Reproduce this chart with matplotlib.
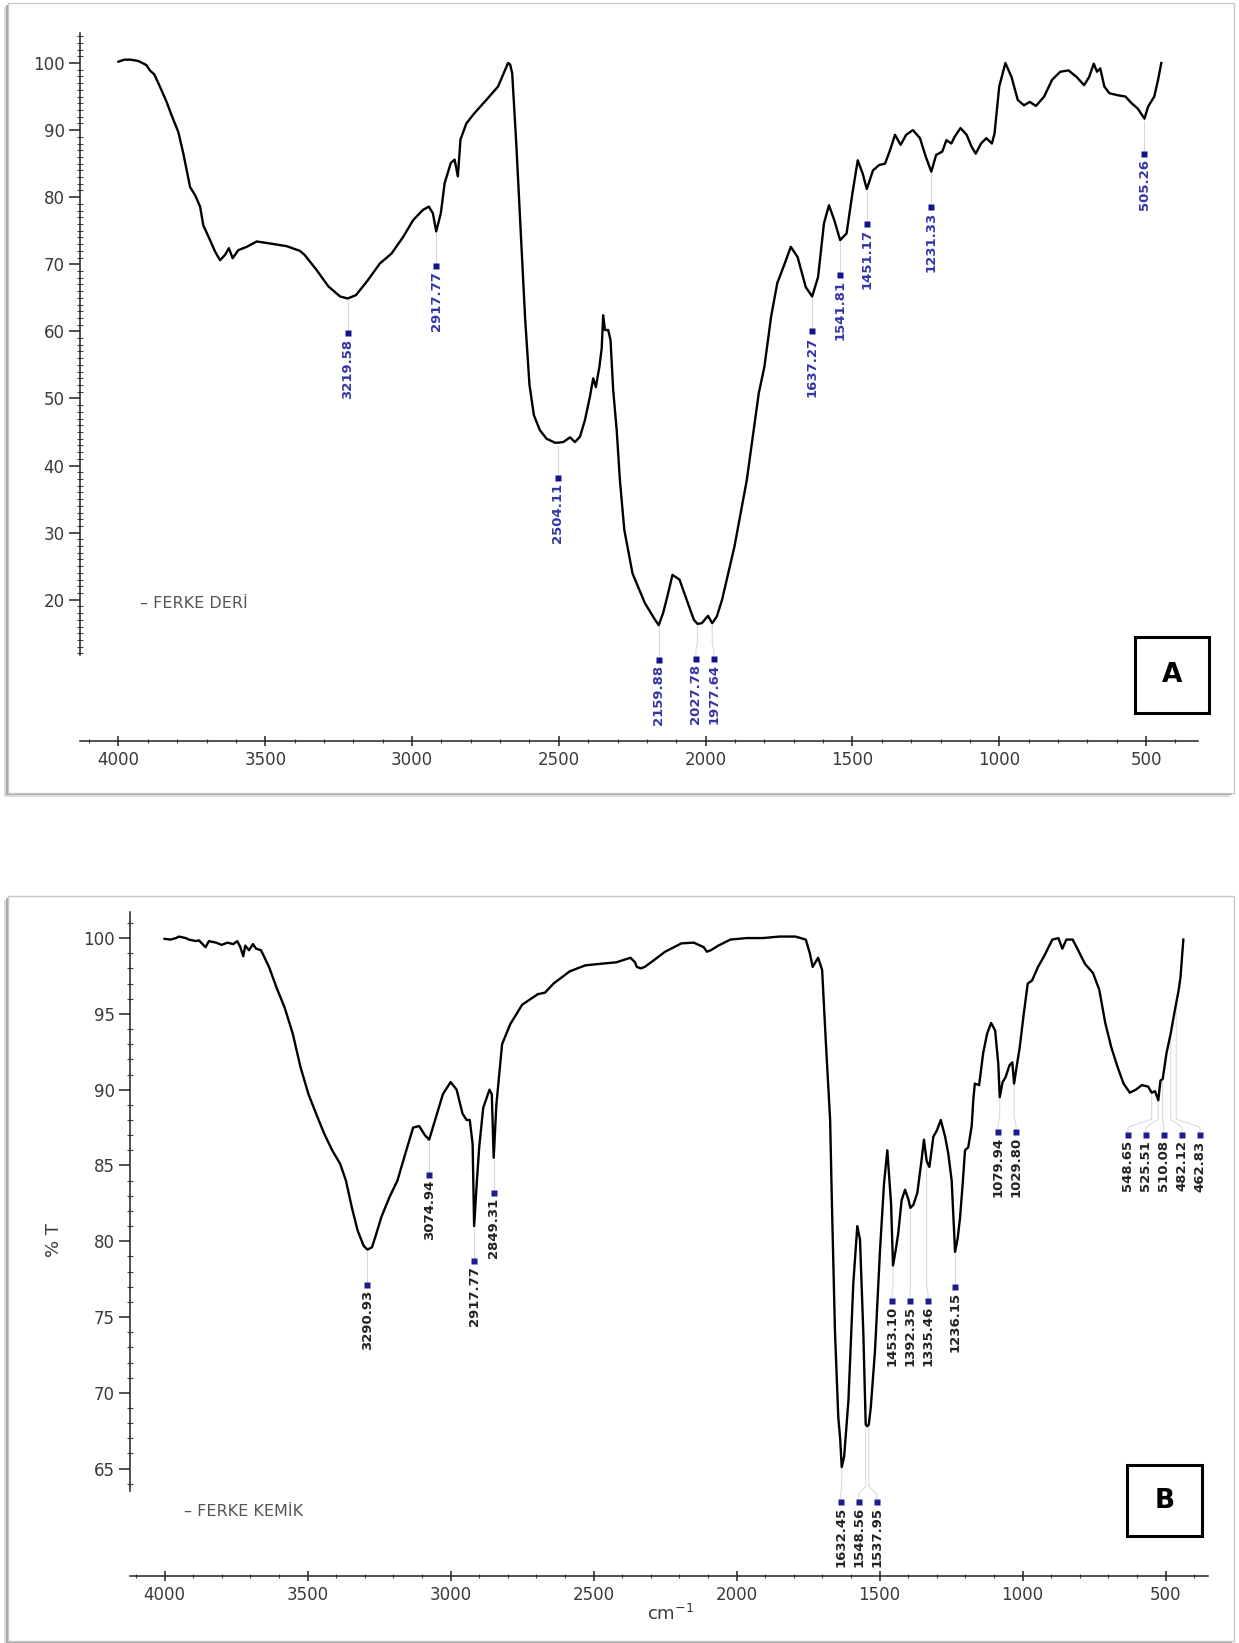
import matplotlib.pyplot as plt
import numpy as np
from matplotlib.patches import Rectangle
from matplotlib.ticker import FixedLocator

W, H = 1239, 1643

# FERKE DERİ spectrum: wavenumber (cm-1) and %T
wn_deri = [4000, 3980, 3959, 3932, 3905, 3893, 3878, 3859, 3836, 3819, 3796, 3779, 3756, 3739,
           3722, 3711, 3688, 3671, 3654, 3637, 3624, 3611, 3592, 3563, 3529, 3484, 3427, 3382,
           3366, 3326, 3285, 3245, 3219.58, 3191, 3151, 3110, 3070, 3030, 2996, 2963, 2943, 2929,
           2917.77, 2902, 2889, 2868, 2855, 2844, 2835, 2815, 2788, 2747, 2707, 2673, 2666, 2659,
           2645, 2630, 2615, 2600, 2585, 2565, 2542, 2513, 2504.11, 2485, 2462, 2445, 2428, 2411,
           2394, 2383, 2374, 2362, 2354, 2349, 2343, 2332, 2324, 2315, 2303, 2292, 2277, 2249,
           2207, 2175, 2159.88, 2145, 2131, 2113, 2089, 2068, 2040, 2027.78, 2013, 1992, 1977.64,
           1962, 1944, 1902, 1860, 1819, 1800, 1777, 1756, 1735, 1710, 1687, 1659, 1637.27, 1617,
           1597, 1580, 1562, 1541.81, 1520, 1500, 1482, 1465, 1451.17, 1430, 1409, 1389, 1372,
           1355, 1336, 1317, 1294, 1270, 1250, 1231.33, 1215, 1194, 1180, 1163, 1152, 1132, 1111,
           1094, 1080, 1062, 1044, 1025, 1016, 1000, 979, 958, 937, 916, 896, 875, 847, 820, 792,
           764, 736, 711, 694, 678, 667, 656, 642, 625, 597, 570, 549, 528, 505.26, 493, 472, 459,
           448]
t_deri = [100.2, 100.5, 100.5, 100.3, 99.7, 98.9, 98.3, 96.5, 94.2, 92.2, 89.7, 86.5, 81.5, 80.3,
          78.6, 75.8, 73.6, 71.9, 70.6, 71.4, 72.4, 70.9, 72.1, 72.6, 73.4, 73.1, 72.7, 72.0,
          71.4, 69.2, 66.7, 65.2, 64.9, 65.4, 67.6, 70.1, 71.6, 74.1, 76.6, 78.1, 78.6, 77.6,
          74.9, 77.6, 82.1, 85.1, 85.6, 83.1, 88.6, 91.0, 92.5, 94.5, 96.5, 100.0, 99.8, 98.5,
          88.0, 75.0, 62.0, 52.0, 47.5, 45.3, 44.0, 43.4, 43.4, 43.5, 44.2, 43.5, 44.3, 46.8,
          50.3, 53.0, 51.7, 54.7, 57.5, 62.4, 60.2, 60.2, 58.7, 51.3, 45.3, 37.8, 30.4, 23.9,
          19.5, 17.2, 16.2, 18.0, 20.4, 23.7, 23.0, 20.4, 17.0, 16.4, 16.5, 17.6, 16.5,
          17.5, 20.0, 27.9, 37.8, 50.8, 54.7, 62.2, 67.2, 69.6, 72.6, 71.1, 66.6, 65.2, 68.1,
          76.1, 78.8, 76.6, 73.6, 74.6, 80.6, 85.5, 83.5, 81.2, 84.0, 84.8, 85.0, 87.0,
          89.3, 87.8, 89.3, 90.0, 88.8, 86.0, 83.8, 86.3, 86.8, 88.5, 88.0, 89.0, 90.3, 89.3,
          87.5, 86.5, 88.0, 88.8, 88.0, 89.5, 96.5, 100.0, 97.9, 94.5, 93.7, 94.2, 93.6, 95.0, 97.5, 98.7,
          98.9, 97.9, 96.7, 97.9, 99.9, 98.7, 99.2, 96.5, 95.5, 95.2, 95.0, 94.0, 93.2, 91.7, 93.5, 95.0, 97.5,
          100.0]
peaks_deri = [[3219.58], [2917.77], [2504.11], [2159.88], [2027.78, 1977.64], [1637.27],
              [1541.81], [1451.17], [1231.33], [505.26]]

# FERKE KEMİK spectrum
wn_kemik = [4000, 3980, 3960, 3950, 3926, 3915, 3890, 3880, 3857, 3845, 3820, 3801, 3780, 3760,
            3746, 3735, 3725, 3718, 3705, 3691, 3680, 3663, 3635, 3608, 3580, 3552, 3525, 3497,
            3470, 3442, 3414, 3386, 3366, 3345, 3325, 3304, 3290.93, 3275, 3263, 3242, 3214, 3186,
            3158, 3131, 3110, 3090, 3074.94, 3048, 3027, 3000, 2979, 2958, 2944, 2933, 2923,
            2917.77, 2908, 2900, 2886, 2864, 2856, 2849.31, 2840, 2834, 2820, 2792, 2750, 2695,
            2670, 2640, 2584, 2529, 2478, 2421, 2371, 2355, 2349, 2335, 2321, 2292, 2250, 2193,
            2150, 2115, 2104, 2090, 2064, 2022, 1965, 1908, 1851, 1794, 1758, 1744, 1734, 1715,
            1701, 1687, 1673, 1667, 1656, 1644.5, 1638, 1632.45, 1624, 1609, 1592, 1578, 1568.5,
            1557, 1548.56, 1543, 1537.95, 1531, 1516, 1498.6, 1484.6, 1473, 1460, 1453.10, 1443,
            1435, 1423, 1411, 1400, 1392.35, 1382, 1368, 1353, 1345, 1335.46, 1326, 1312, 1300,
            1286, 1271, 1260, 1248, 1236.15, 1227, 1219, 1209.5, 1201.4, 1190, 1178, 1172.5, 1167,
            1152, 1138, 1124, 1110, 1096, 1085, 1079.94, 1070, 1060, 1046, 1036, 1029.80, 1021,
            1010, 996, 982, 967, 946, 925, 896, 875, 861, 847, 825, 811, 782, 754, 732, 711, 690,
            668, 647, 625, 604, 583, 561, 548.65, 537, 525.51, 518, 510.08, 497, 482.12, 470,
            462.83, 455, 448, 438]
t_kemik = [99.95, 99.9, 100.0, 100.1, 100.0, 99.9, 99.8, 99.85, 99.4, 99.8, 99.7, 99.55, 99.7, 99.6,
           99.8, 99.4, 98.8, 99.5, 99.2, 99.6, 99.3, 99.2, 98.1, 96.7, 95.4, 93.7, 91.5, 89.7,
           88.4, 87.1, 86.0, 85.1, 84.0, 82.2, 80.7, 79.7, 79.45, 79.6, 80.3, 81.6, 82.9, 84.0,
           85.8, 87.5, 87.6, 87.0, 86.7, 88.4, 89.7, 90.5, 90.0, 88.4, 88.0, 88.0, 86.4,
           81.0, 84.0, 86.2, 88.8, 90.0, 89.7, 85.5, 89.0, 90.2, 93.0, 94.3, 95.6, 96.3,
           96.4, 97.0, 97.8, 98.2, 98.3, 98.4, 98.7, 98.4, 98.1, 98.0, 98.1, 98.5, 99.1, 99.65,
           99.7, 99.4, 99.1, 99.2, 99.5, 99.9, 100.0, 100.0, 100.1, 100.1, 99.9, 99.0, 98.1, 98.7,
           97.9, 92.8, 88.0, 82.7, 74.0, 68.4, 67.0, 65.1, 65.8, 69.5, 77.2, 81.0, 80.1,
           74.0, 67.9, 67.8, 67.9, 69.0, 72.8, 79.4, 83.8, 86.0, 82.5, 78.4, 79.5,
           80.5, 82.7, 83.4, 82.8, 82.2, 82.4, 83.2, 85.4, 86.7, 85.3, 84.9, 86.9, 87.3,
           88.0, 86.9, 85.8, 84.0, 79.3, 80.2, 81.5, 83.8, 86.0, 86.2, 87.6, 89.3, 90.4,
           90.3, 92.4, 93.7, 94.4, 93.9, 91.7, 89.5, 90.5, 90.8, 91.6, 91.8, 90.4, 91.5,
           92.8, 95.0, 97.0, 97.2, 98.1, 98.8, 99.9, 100.0, 99.3, 99.9, 99.9, 99.4, 98.3, 97.7, 96.6, 94.4, 92.8,
           91.5, 90.4, 89.8, 90.0, 90.3, 90.2, 89.8, 89.9, 89.3, 90.6, 90.7, 92.4, 93.7, 95.0,
           95.7, 96.5, 97.4, 99.9]
peaks_kemik = [[3290.93], [3074.94], [2917.77], [2849.31], [1632.45, 1548.56, 1537.95],
               [1453.10, 1392.35, 1335.46], [1236.15], [1079.94, 1029.80],
               [548.65, 525.51, 510.08, 482.12, 462.83]]

x_major = [4000, 3500, 3000, 2500, 2000, 1500, 1000, 500]
x_minor = [v for v in range(400, 4101, 100) if v % 500]


def fx(x):
    return x / W


def fy(y):
    return 1 - y / H


fig = plt.figure(figsize=(W / 100, H / 100), dpi=100)


def card(x0, y0, x1, y1):
    # white card with a soft grey shadow on the left and bottom edges
    for off, col in [(4, '#dcdcdc'), (2, '#a6a6a6')]:
        fig.patches.append(Rectangle((fx(x0 - off), fy(y1 + off)), (x1 - x0) / W, (y1 - y0) / H,
                                     transform=fig.transFigure, facecolor=col, edgecolor='none',
                                     zorder=-3))
    fig.patches.append(Rectangle((fx(x0), fy(y1)), (x1 - x0) / W, (y1 - y0) / H,
                                 transform=fig.transFigure, facecolor='white',
                                 edgecolor='#c8c8c8', lw=1, zorder=-2))


def tag(x0, y0, x1, y1, letter):
    fig.patches.append(Rectangle((fx(x0), fy(y1)), (x1 - x0) / W, (y1 - y0) / H,
                                 transform=fig.transFigure, facecolor='white',
                                 edgecolor='black', lw=2.2, zorder=5))
    fig.text(fx((x0 + x1) / 2), fy((y0 + y1) / 2), letter, ha='center', va='center',
             fontsize=19, fontweight='bold', zorder=6)


def spread(xs, gap):
    pos = np.array(xs, dtype=float)
    for _ in range(500):
        moved = False
        for i in range(len(pos) - 1):
            d = pos[i + 1] - pos[i]
            if d < gap - 1e-6:
                s = (gap - d) / 2
                pos[i] -= s
                pos[i + 1] += s
                moved = True
        if not moved:
            break
    return pos


def spectrum(box, xlim, ylim, ybounds, yticks, yminor, wn, t, peaks, tcol, scol):
    x0, y0, x1, y1 = box  # left, top, right, x-axis line (pixels)
    ax = fig.add_axes([fx(x0), fy(y1), (x1 - x0) / W, (y1 - y0) / H])
    ax.set_facecolor('none')
    ax.plot(wn, t, color='black', lw=1.7, zorder=3)
    ax.set_xlim(*xlim)
    ax.set_ylim(*ylim)

    for s in ['top', 'right']:
        ax.spines[s].set_visible(False)
    ax.spines['left'].set_bounds(*ybounds)
    for s in ['left', 'bottom']:
        ax.spines[s].set_linewidth(1.1)
        ax.spines[s].set_color('#222222')

    ax.xaxis.set_major_locator(FixedLocator(x_major))
    ax.xaxis.set_minor_locator(FixedLocator(x_minor))
    ax.yaxis.set_major_locator(FixedLocator(yticks))
    ax.yaxis.set_minor_locator(FixedLocator(yminor))
    ax.tick_params(axis='y', which='major', direction='out', length=8, width=1.1,
                   labelsize=12, pad=3, color='#222222', labelcolor='#3a3a3a')
    ax.tick_params(axis='y', which='minor', direction='inout', length=4, width=0.8,
                   color='#444444')
    ax.tick_params(axis='x', which='major', direction='inout', length=7, width=1.1,
                   labelsize=12, pad=4, color='#222222', labelcolor='#3a3a3a')
    ax.tick_params(axis='x', which='minor', direction='inout', length=3.5, width=0.8,
                   color='#444444')

    # peak picks: leader line from the band down to a rotated label
    wn_inc = np.array(wn)[::-1]
    t_inc = np.array(t)[::-1]
    to_disp = ax.transData.transform
    from_disp = ax.transData.inverted().transform
    for grp in peaks:
        pts = np.array([to_disp((w, np.interp(w, wn_inc, t_inc))) for w in grp])
        top = pts[:, 1].min() - 34
        order = np.argsort(pts[:, 0])
        lx = spread(pts[order, 0], 18)
        for k, i in enumerate(order):
            px, py = pts[i]
            path = from_disp(np.array([(px, py - 2), (px, top + 15), (lx[k], top + 7),
                                       (lx[k], top + 2)]))
            ax.plot(path[:, 0], path[:, 1], color='#d4d4e4', lw=0.7, zorder=2, clip_on=False)
            sq = from_disp((lx[k], top - 1))
            ax.plot(sq[0], sq[1], 's', ms=3.8, color=scol, mec='none', zorder=4, clip_on=False)
            tp = from_disp((lx[k], top - 6))
            ax.text(tp[0], tp[1], f'{grp[i]:.2f}', rotation=90, ha='center', va='top',
                    fontsize=9.5, fontweight='bold', color=tcol, zorder=4)
    return ax


card(8, 3, 1234, 793)
card(8, 896, 1234, 1641)

spectrum((80, 33.5, 1198, 741), (4131, 323), (-1.06, 104.4), (11.8, 104.4),
         list(range(20, 101, 10)), [v for v in range(12, 105) if v % 10],
         wn_deri, t_deri, peaks_deri, '#3535a8', '#14148a')

spectrum((130, 912, 1207.5, 1575.5), (4121, 353.5), (57.95, 101.72), (63.5, 101.72),
         list(range(65, 101, 5)), [v for v in range(64, 102) if v % 5],
         wn_kemik, t_kemik, peaks_kemik, '#222222', '#1c1c8c')

fig.text(fx(140), fy(604), '– FERKE DERİ', fontsize=11.5, color='#555555', va='center')
fig.text(fx(184), fy(1512), '– FERKE KEMİK', fontsize=11.5, color='#555555', va='center')
fig.text(fx(54), fy(1240), '% T', rotation=90, fontsize=13, color='#3a3a3a',
         ha='center', va='center')
fig.text(fx(671), fy(1614), 'cm$^{-1}$', fontsize=13, color='#3a3a3a',
         ha='center', va='center')

tag(1135, 637, 1209, 713, 'A')
tag(1127, 1465, 1202, 1536, 'B')

fig.savefig('out.png', dpi=100)
